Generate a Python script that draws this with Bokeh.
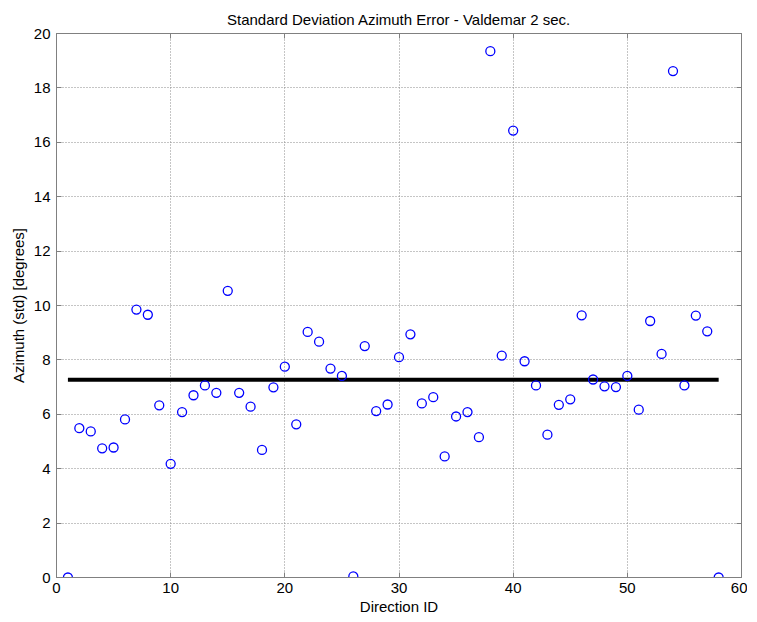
from bokeh.plotting import figure
from bokeh.models import Range1d, FixedTicker, LinearAxis
from bokeh.embed import file_html
from bokeh.resources import INLINE

direction_id = list(range(1, 59))
azimuth_std = [0.0, 5.49, 5.37, 4.75, 4.78, 5.81, 9.85, 9.66, 6.33, 4.18,
               6.08, 6.70, 7.06, 6.79, 10.54, 6.79, 6.28, 4.69, 6.99, 7.75,
               5.63, 9.03, 8.67, 7.68, 7.41, 0.04, 8.51, 6.12, 6.36, 8.10,
               8.94, 6.40, 6.63, 4.45, 5.92, 6.08, 5.16, 19.35, 8.16, 16.43,
               7.95, 7.06, 5.25, 6.35, 6.55, 9.64, 7.28, 7.03, 7.00, 7.41,
               6.17, 9.43, 8.22, 18.62, 7.06, 9.63, 9.05, 0.0]
mean_x = [1, 58]
mean_y = [7.27, 7.27]
x_ticks = [0, 10, 20, 30, 40, 50, 60]
y_ticks = [0, 2, 4, 6, 8, 10, 12, 14, 16, 18, 20]

FONT = "Liberation Sans"

p = figure(width=747, height=619, output_backend="svg", toolbar_location=None,
           x_range=Range1d(0, 60), y_range=Range1d(0, 20),
           min_border_left=56, min_border_right=6, min_border_top=33,
           min_border_bottom=42)

p.title.text = "Standard Deviation Azimuth Error - Valdemar 2 sec."
p.title.align = "center"
p.title.text_font = FONT
p.title.text_font_style = "normal"
p.title.text_font_size = "15px"
p.title.text_color = "black"
p.title.offset = 0
p.title.standoff = 12

p.background_fill_color = "white"
p.border_fill_color = "white"
p.outline_line_color = "#808080"

for ax, ticks in ((p.xaxis[0], x_ticks), (p.yaxis[0], y_ticks)):
    ax.ticker = FixedTicker(ticks=ticks)
    ax.major_tick_in = 5
    ax.major_tick_out = 0
    ax.minor_tick_line_color = None
    ax.axis_line_color = "#808080"
    ax.major_tick_line_color = "#808080"
    ax.major_label_text_font = FONT
    ax.major_label_text_font_size = "15px"
    ax.major_label_text_color = "black"
    ax.axis_label_text_font = FONT
    ax.axis_label_text_font_size = "15px"
    ax.axis_label_text_font_style = "normal"
    ax.axis_label_text_color = "black"

p.xaxis.major_label_standoff = 5
p.yaxis.major_label_standoff = 6
p.xaxis.axis_label = "Direction ID"
p.yaxis.axis_label = "Azimuth (std) [degrees]"
p.xaxis.axis_label_standoff = 2
p.yaxis.axis_label_standoff = 4

# mirrored ticks on right/top (MATLAB box style), labels not painted
r_axis = LinearAxis(ticker=FixedTicker(ticks=y_ticks), major_tick_in=5, major_tick_out=0,
                    minor_tick_line_color=None, major_label_text_color=None,
                    major_label_text_font_size="1px",
                    axis_line_color="#808080", major_tick_line_color="#808080",
                    major_label_standoff=0)
t_axis = LinearAxis(ticker=FixedTicker(ticks=x_ticks), major_tick_in=5, major_tick_out=0,
                    minor_tick_line_color=None, major_label_text_color=None,
                    major_label_text_font_size="1px",
                    axis_line_color="#808080", major_tick_line_color="#808080",
                    major_label_standoff=0)
p.add_layout(r_axis, "right")
p.add_layout(t_axis, "above")

p.xgrid.ticker = FixedTicker(ticks=x_ticks)
p.ygrid.ticker = FixedTicker(ticks=y_ticks)
for g in (p.xgrid[0], p.ygrid[0]):
    g.grid_line_color = "#8a8a8a"
    g.grid_line_dash = "1 2"
    g.grid_line_width = 1

p.line(mean_x, mean_y, line_color="black", line_width=4)
p.scatter(direction_id, azimuth_std, marker="circle", size=9,
          fill_color=None, line_color="#0000ff", line_width=1.3)

open("out.html", "w").write(file_html(p, INLINE))
